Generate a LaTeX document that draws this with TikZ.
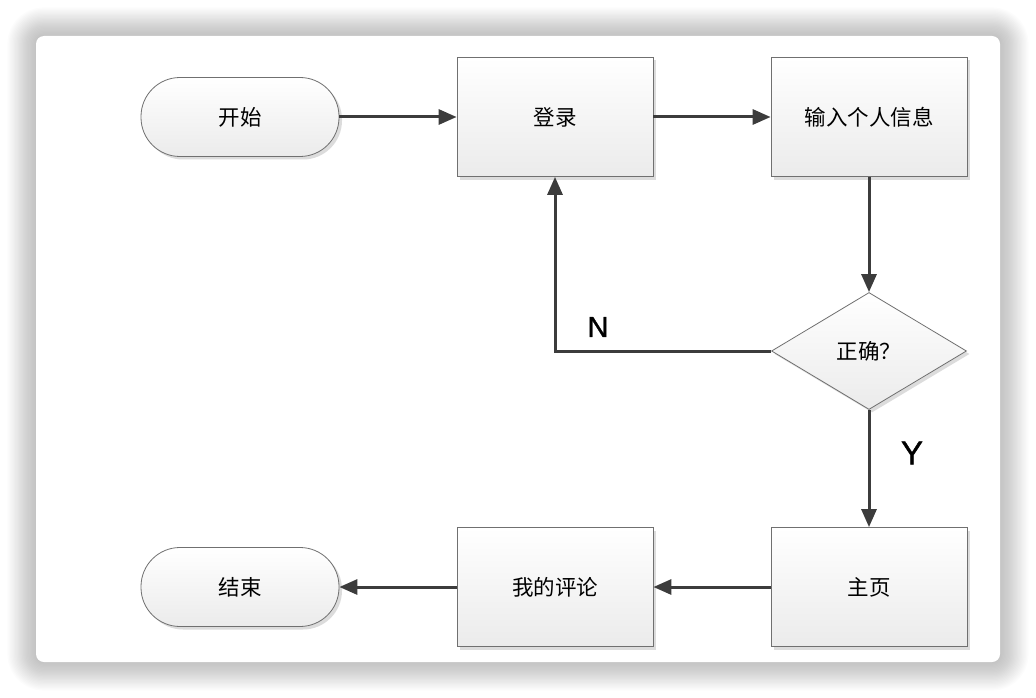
\documentclass[tikz,border=0pt]{standalone}
\usepackage{fontspec}
\newfontfamily\cjk{Noto Sans CJK SC}
\newfontfamily\lat[FakeBold=1.2]{Liberation Sans}
\usetikzlibrary{shapes.geometric,arrows.meta,shadows}
\definecolor{linec}{HTML}{3C3C3C}
\definecolor{bord}{HTML}{707070}
\definecolor{shadc}{HTML}{DCDCDC}
\definecolor{botc}{HTML}{EBEBEB}
\begin{document}
\begin{tikzpicture}[x=1pt,y=-1pt,
  base/.style={draw=bord, line width=0.8pt, top color=white, bottom color=botc,
    font=\cjk\fontsize{21.5}{24}\selectfont, inner sep=0pt,
    drop shadow={shadow xshift=3pt, shadow yshift=-3pt, fill=shadc, opacity=1}},
  procbox/.style={base, rectangle, minimum width=196pt, minimum height=119pt},
  termbox/.style={base, rectangle, rounded corners=39pt, minimum width=198pt, minimum height=79pt},
  decbox/.style={base, diamond, minimum width=195pt, minimum height=117pt},
  conn/.style={draw=linec, line width=3pt, -{Triangle[length=18pt,width=15pt]}},
  lab/.style={font=\lat\fontsize{29}{30}\selectfont, text=black}
]
\useasboundingbox (0,0) rectangle (1036,698);
% card shadow
\foreach \i in {1,...,22}{
  \fill[black, opacity=0.011, rounded corners={8+1.3*\i}]
    ({36-1.3*\i},{36-1.3*\i}) rectangle ({1000+1.3*\i},{662+1.3*\i});
}
\fill[white, rounded corners=8pt] (36,36) rectangle (1000,662);

% nodes
\node[termbox] (start) at (240,117) {开始};
\node[procbox] (login) at (555,117) {登录};
\node[procbox] (info) at (869,117) {输入个人信息};
\node[decbox] (check) at (869,351) {正确？};
\node[procbox] (home) at (869,587) {主页};
\node[procbox] (review) at (555,587) {我的评论};
\node[termbox] (finish) at (240,587) {结束};

% connectors
\draw[conn] (start) -- (login);
\draw[conn] (login) -- (info);
\draw[conn] (info) -- (check);
\draw[conn] (check.west) -- (check.west -| login.south) -- (login.south);
\draw[conn] (check) -- (home);
\draw[conn] (home) -- (review);
\draw[conn] (review) -- (finish);

% labels
\node[lab] (nlab) at (598,327) {N};
\node[lab, font=\lat\fontsize{33}{34}\selectfont] (ylab) at (912,453) {Y};
\end{tikzpicture}
\end{document}
